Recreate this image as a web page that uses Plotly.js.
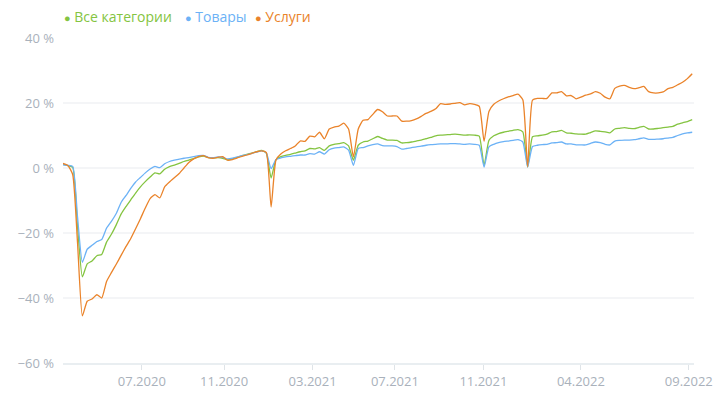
<!DOCTYPE html>
<html>
<head>
<meta charset="utf-8">
<script src="https://cdn.plot.ly/plotly-3.0.1.min.js"></script>
<style>
  html, body { margin: 0; padding: 0; background: #fff; }
  #chart { width: 717px; height: 401px; }
</style>
</head>
<body>
<div id="chart"></div>
<script>
// weekly series, % change
var startWeek = '2020-03-09';

var allCats = [
  1.1, 0.7, 0.2, -18, -33.5, -29.5, -28.6, -27, -26.6, -22.8,
  -20.4, -17.5, -14.2, -11.9, -9.8, -7.7, -5.8, -4.2, -2.8, -1.5,
  -1.8, -0.4, 0.4, 0.9, 1.4, 2.0, 2.4, 2.9, 3.4, 3.7,
  3.2, 3.1, 3.2, 3.0, 2.5, 2.8, 3.3, 3.8, 4.2, 4.6,
  5.0, 5.4, 4.6, -3.1, 2.6, 3.5, 3.9, 4.2, 4.6, 5.0,
  5.3, 6.0, 5.9, 6.3, 5.4, 6.8, 7.3, 7.5, 7.8, 6.8,
  2.4, 7.0, 8.0, 8.3, 9.0, 9.7, 9.1, 8.6, 8.6, 8.5,
  7.7, 7.8, 8.0, 8.3, 8.6, 9.0, 9.4, 9.9, 10.1, 10.2,
  10.3, 10.4, 10.3, 10.1, 10.2, 10.1, 9.8, 0.8, 8.5, 9.9,
  10.6, 11.0, 11.3, 11.6, 11.8, 11.1, 0.3, 9.6, 9.9, 10.1,
  10.4, 11.1, 11.2, 11.6, 10.8, 10.7, 10.5, 10.4, 10.4, 10.9,
  11.4, 11.3, 11.1, 10.8, 12.0, 12.2, 12.4, 12.2, 12.1, 12.5,
  12.8, 12.0, 12.0, 12.2, 12.4, 12.6, 12.8, 13.5, 13.9, 14.3,
  14.9
];

var goods = [
  1.0, 0.8, 0.5, -15, -29, -25, -23.8, -22.6, -22, -18.5,
  -16.4, -14, -10.6, -8.5, -6.3, -4.3, -2.9, -1.5, -0.3, 0.5,
  0.1, 1.3, 2.0, 2.4, 2.7, 3.0, 3.2, 3.5, 3.8, 3.9,
  3.3, 3.2, 3.4, 3.3, 2.8, 3.0, 3.4, 3.8, 4.1, 4.5,
  4.9, 5.3, 4.7, -0.2, 2.6, 3.1, 3.4, 3.6, 3.8, 4.0,
  4.0, 4.4, 4.3, 5.0, 4.3, 5.6, 6.1, 6.3, 6.5, 5.5,
  0.8, 6.0, 6.3, 6.8, 7.2, 7.4, 6.9, 6.8, 6.8, 6.6,
  5.8, 6.0, 6.3, 6.5, 6.7, 7.0, 7.2, 7.3, 7.4, 7.4,
  7.5, 7.5, 7.4, 7.3, 7.4, 7.3, 7.0, 0.3, 6.5, 7.3,
  7.8, 8.1, 8.3, 8.5, 8.7, 8.0, 0.3, 6.6, 7.0, 7.2,
  7.3, 7.7, 7.8, 8.0, 7.4, 7.4, 7.1, 7.1, 7.1, 7.6,
  8.0, 7.8, 7.3, 7.1, 8.3, 8.5, 8.6, 8.6, 8.7, 9.0,
  9.3, 8.8, 8.8, 8.9, 9.0, 9.2, 9.4, 10.0, 10.5, 10.8,
  11.0
];

var services = [
  1.4, 0.8, -2, -23, -45.5, -41, -40.3, -39, -40, -34.9,
  -32.2, -29.6, -26.9, -24.2, -21.7, -18.7, -15.6, -12.3, -9.4, -8.2,
  -9.2, -5.8, -4.3, -3, -1.7, 0, 1.7, 2.8, 3.5, 3.8,
  3.2, 3.0, 3.3, 3.5, 2.4, 2.6, 3.1, 3.6, 4.0, 4.5,
  5.0, 5.3, 4.8, -12, 2.5, 4.3, 5.3, 6.0, 6.8, 8.3,
  8.2, 9.8, 9.6, 11.0, 9.0, 12.0, 12.6, 12.9, 13.8, 12.0,
  3.4, 12.0, 14.7, 14.9, 16.5, 18.0, 17.3, 16.0, 16.0, 16.0,
  14.4, 14.4, 14.6, 15.1, 15.9, 16.8, 17.4, 18.2, 19.8, 19.6,
  19.7, 19.9, 20.1, 19.4, 19.8, 19.6, 19.0, 8.2, 17.4, 19.6,
  20.6, 21.3, 21.9, 22.3, 22.7, 21.0, 0.4, 20.9, 21.4, 21.4,
  21.4, 23.1, 23.1, 23.5, 22.2, 22.3, 21.3, 21.8, 22.4, 22.8,
  23.5, 23.0, 21.8, 21.3, 24.5, 25.2, 25.4, 24.8, 24.4, 24.7,
  25.1, 23.5, 23.1, 23.1, 23.4, 24.4, 24.8, 25.6, 26.4, 27.5,
  29.0
];

var seriesNames = ['Все категории', 'Товары', 'Услуги'];
var seriesColors = ['#84c441', '#6cb2f6', '#ea832a'];

var tickDates = ['2020-07-01', '2020-10-28', '2021-03-05', '2021-07-02', '2021-11-07', '2022-03-28', '2022-08-31'];
var tickLabels = ['07.2020', '11.2020', '03.2021', '07.2021', '11.2021', '04.2022', '09.2022'];

// week dates
var weeks = [];
var d0 = new Date(startWeek + 'T00:00:00Z');
for (var i = 0; i < allCats.length; i++) {
  var d = new Date(d0.getTime() + i * 7 * 86400000);
  weeks.push(d.toISOString().slice(0, 10));
}

var allSeries = [allCats, goods, services];
var data = [];
for (var k = 0; k < allSeries.length; k++) {
  data.push({
    x: weeks,
    y: allSeries[k],
    name: seriesNames[k],
    type: 'scatter',
    mode: 'lines',
    line: { color: seriesColors[k], width: 1.3, shape: 'spline', smoothing: 0.5 },
    showlegend: false,
    hoverinfo: 'skip'
  });
}

// legend as coloured text
var legendX = [62, 183, 253];
var annotations = [];
for (var k = 0; k < seriesNames.length; k++) {
  annotations.push({
    xref: 'paper', yref: 'paper',
    x: (legendX[k] - 63) / 631, y: 1 + (38 - 16.5) / 325,
    xanchor: 'left', yanchor: 'middle',
    showarrow: false,
    text: '<span style="font-size:11px">\u25CF</span> ' + seriesNames[k],
    font: { family: 'Open Sans', size: 14, color: seriesColors[k] }
  });
}

var layout = {
  width: 717, height: 401,
  margin: { l: 63, r: 23, t: 38, b: 38 },
  paper_bgcolor: '#fff', plot_bgcolor: '#fff',
  font: { family: 'Open Sans', size: 13, color: '#a9b1bb' },
  showlegend: false,
  xaxis: {
    type: 'date',
    range: ['2020-03-09', '2022-09-07 14:00'],
    tickmode: 'array', tickvals: tickDates, ticktext: tickLabels,
    showgrid: false, zeroline: false,
    showline: true, linecolor: '#e9eef1', linewidth: 2,
    ticks: 'outside', ticklen: 5, tickwidth: 1, tickcolor: '#dfe4e8',
    tickfont: { family: 'Open Sans', size: 13, color: '#a9b1bb' }
  },
  yaxis: {
    range: [-60, 40],
    tickmode: 'linear', tick0: -60, dtick: 20,
    ticksuffix: ' %',
    showgrid: true, gridcolor: '#f4f5f7', gridwidth: 2,
    zeroline: false, showline: false,
    ticks: '', ticklabelstandoff: 8,
    tickfont: { family: 'Open Sans', size: 13, color: '#a9b1bb' }
  },
  annotations: annotations
};

Plotly.newPlot('chart', data, layout, { displayModeBar: false, staticPlot: true });
</script>
</body>
</html>
